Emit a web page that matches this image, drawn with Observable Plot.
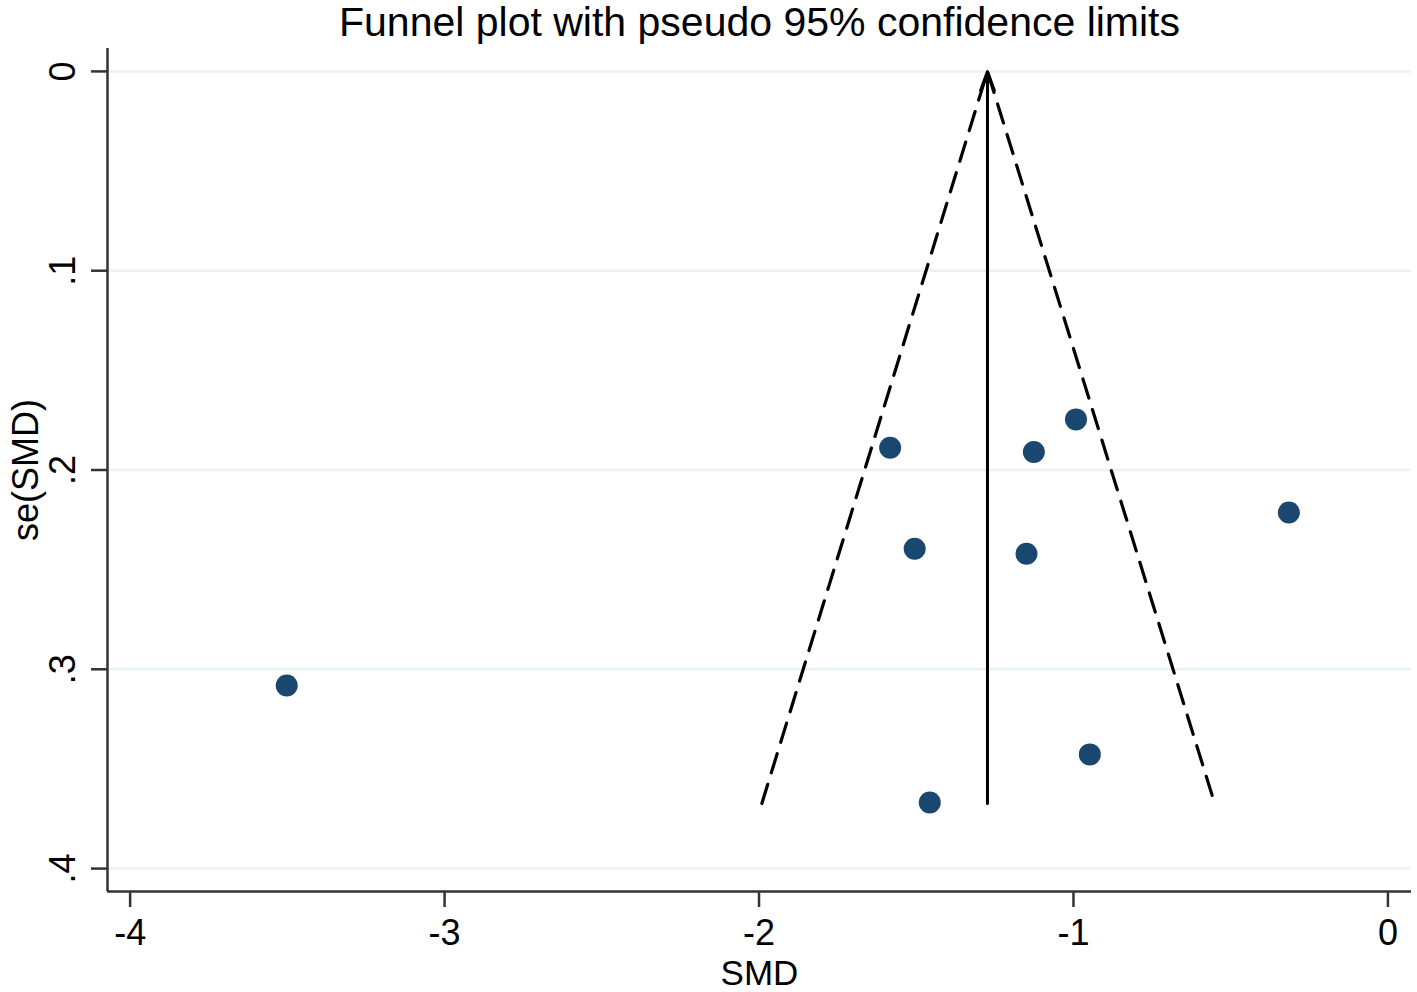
<!DOCTYPE html>
<html><head><meta charset="utf-8">
<script src="https://cdn.jsdelivr.net/npm/d3@7"></script>
<script src="https://cdn.jsdelivr.net/npm/@observablehq/plot@0.6"></script>
<style>html,body{margin:0;padding:0;background:#fff;}</style>
</head><body><div id="chart"></div>
<script>
const title = "Funnel plot with pseudo 95% confidence limits";
const xLabel = "SMD";
const yLabel = "se(SMD)";
// studies
const smd = [-3.502, -1.583, -1.505, -1.457, -1.1495, -1.126, -0.992, -0.948, -0.315];
const se  = [0.3081, 0.1888, 0.2395, 0.3668, 0.242, 0.191, 0.1746, 0.3427, 0.2213];
// pseudo 95% limits
const funnelSMD = [-1.991, -1.2735, -0.551];
const funnelSE  = [0.3673, 0, 0.3673];
const centerSMD = [-1.2735];
const centerSE  = [0.3673, 0];
// axes
const xTicks = [-4, -3, -2, -1, 0];
const xTickLabels = ["-4", "-3", "-2", "-1", "0"];
const yTicks = [0, 0.1, 0.2, 0.3, 0.4];
const yTickLabels = ["0", ".1", ".2", ".3", ".4"];
const xDomain = [-4.072, 0.075];
const yDomain = [-0.0115, 0.4115];

const points = smd.map((x, i) => ({x, y: se[i]}));
const funnel = funnelSMD.map((x, i) => ({x, y: funnelSE[i]}));
const center = [{x1: centerSMD[0], y1: centerSE[0], x2: centerSMD[0], y2: centerSE[1]}];

const axisColor = "#333";
const font = "'Liberation Sans', Arial, sans-serif";

const chart = Plot.plot({
  width: 1417,
  height: 992,
  marginLeft: 107,
  marginRight: 6,
  marginTop: 48,
  marginBottom: 101,
  style: {fontFamily: font, fontSize: "36px", color: "#000", background: "#fff"},
  x: {domain: xDomain},
  y: {domain: yDomain, reverse: true},
  marks: [
    Plot.gridY(yTicks, {stroke: "#eaf2f3", strokeOpacity: 1, strokeWidth: 2.5}),
    Plot.ruleX([xDomain[0]], {stroke: axisColor, strokeWidth: 2.5}),
    Plot.ruleY([yDomain[1]], {stroke: axisColor, strokeWidth: 2.5}),
    Plot.axisX(xTicks, {
      tickSize: 16, tickPadding: 12, stroke: axisColor, strokeWidth: 2.5,
      fontSize: 36, fill: "#000", label: null,
      tickFormat: d => xTickLabels[xTicks.indexOf(d)]
    }),
    Plot.axisY(yTicks, {
      tickSize: 16, tickPadding: 17, tickRotate: -90, stroke: axisColor, strokeWidth: 2.5,
      fontSize: 36, fill: "#000", label: null,
      tickFormat: d => yTickLabels[yTicks.indexOf(d)]
    }),
    Plot.line(funnel, {x: "x", y: "y", stroke: "#000", strokeWidth: 3.2, strokeDasharray: "20,12"}),
    Plot.arrow(center, {x1: "x1", y1: "y1", x2: "x2", y2: "y2", stroke: "#000", strokeWidth: 3, headAngle: 40, headLength: 10}),
    Plot.dot(points, {x: "x", y: "y", r: 11, fill: "#1a476f", stroke: "none"}),
    Plot.text([title], {text: d => d, frameAnchor: "top", dy: -26, fontSize: 41, fill: "#000", lineAnchor: "middle"}),
    Plot.text([xLabel], {text: d => d, frameAnchor: "bottom", dy: 82, fontSize: 35, fill: "#000", lineAnchor: "middle"}),
    Plot.text([yLabel], {text: d => d, frameAnchor: "left", dx: -81, rotate: -90, fontSize: 36, fill: "#000", lineAnchor: "middle", textAnchor: "middle"})
  ]
});
document.getElementById("chart").appendChild(chart);
</script>
</body></html>
